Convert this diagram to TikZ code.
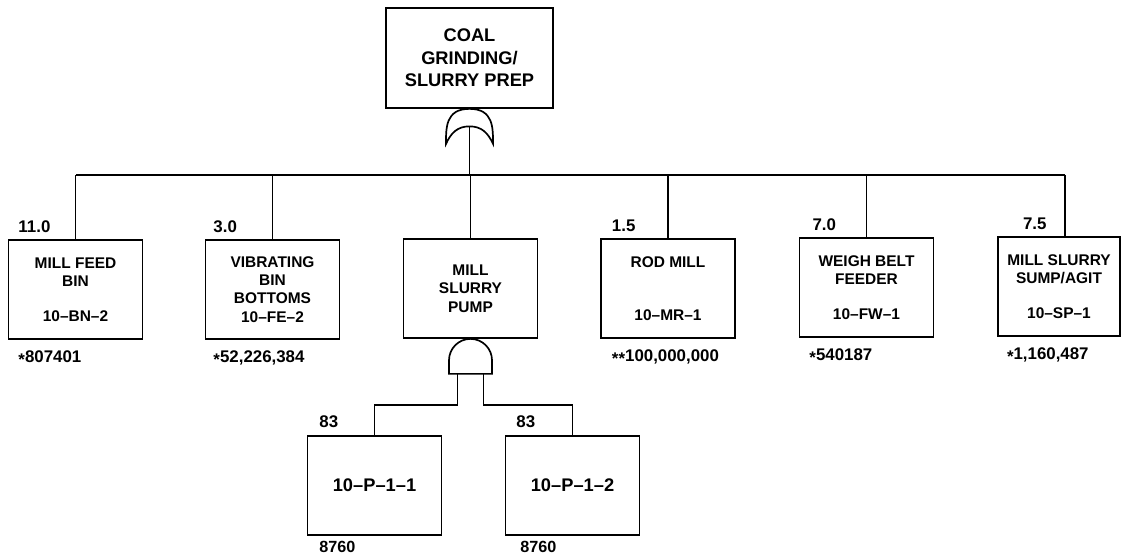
\documentclass[tikz,border=0pt]{standalone}
\usepackage{fontspec}
\setmainfont{Liberation Sans}
\usetikzlibrary{positioning}
\newcommand{\mk}{\raisebox{-0.35ex}{*}}

\begin{document}
\begin{tikzpicture}[x=0.025cm,y=0.025cm,line width=1.2pt]
\tikzstyle{blk}=[rectangle,draw,minimum width=3.35cm,minimum height=2.475cm,align=center,inner sep=2pt,font=\fontsize{11}{13}\selectfont\bfseries]
\tikzstyle{topblk}=[rectangle,draw,minimum width=4.175cm,minimum height=2.5cm,align=center,font=\fontsize{13}{16}\selectfont\bfseries]
\tikzstyle{gatebox}=[rectangle,inner sep=0pt,outer sep=0pt,minimum height=0.875cm]
\tikzstyle{num}=[inner sep=0pt,font=\fontsize{12}{14}\selectfont\bfseries]
\useasboundingbox (0,0) rectangle (1122,-556);
\node (coal) [topblk] at (469.5,-58) {COAL\\GRINDING/\\SLURRY PREP};
\node (org) [gatebox, minimum width=1.175cm, below=0pt of coal] {};
\draw (org.south west) .. controls +(0,16) and +(-24,0) .. (org.north) .. controls +(24,0) and +(0,16) .. (org.south east)
  .. controls +(-5,11) and +(12,0) .. (org.center) .. controls +(-12,0) and +(5,11) .. (org.south west) -- cycle;
\coordinate (busL) at (76,-175);
\coordinate (busR) at (1065,-175);
\draw (org.center) -- (org.center |- busL);
\draw (busL) -- (busR);
\node (mfb) [blk] at (75.5,-289.5) {MILL FEED\\BIN\\[12pt]10--BN--2};
\node (vbb) [blk] at (272.5,-289.5) {VIBRATING\\BIN\\BOTTOMS\\10--FE--2};
\node (msp) [blk] at (470.5,-288.5) {MILL\\SLURRY\\PUMP};
\node (rod) [blk] at (668,-288.5) {ROD MILL\\[25pt]10--MR--1};
\node (wbf) [blk] at (866.5,-287.5) {WEIGH BELT\\FEEDER\\[12pt]10--FW--1};
\node (sump) [blk, minimum width=3.05cm] at (1059,-286.5) {MILL SLURRY\\SUMP/AGIT\\[12pt]10--SP--1};
\draw (mfb.north) -- (mfb.north |- busL);
\draw (vbb.north) -- (vbb.north |- busL);
\draw (msp.north) -- (msp.north |- busL);
\draw (rod.north) -- (rod.north |- busL);
\draw (wbf.north) -- (wbf.north |- busL);
\draw (busR) -- (busR |- sump.north);
\node (rmfb) [num, above right=4pt and 0.25cm of mfb.north west] {11.0};
\node (rvbb) [num, above right=4pt and 0.2cm of vbb.north west] {3.0};
\node (rrod) [num, above right=4pt and 0.275cm of rod.north west] {1.5};
\node (rwbf) [num, above right=4pt and 0.325cm of wbf.north west] {7.0};
\node (rsump) [num, above right=4pt and 0.625cm of sump.north west] {7.5};
\node (cmfb) [num, below right=7pt and 0.25cm of mfb.south west] {\mk807401};
\node (cvbb) [num, below right=7pt and 0.2cm of vbb.south west] {\mk52,226,384};
\node (crod) [num, below right=7pt and 0.275cm of rod.south west] {\mk\mk100,000,000};
\node (cwbf) [num, below right=7pt and 0.25cm of wbf.south west] {\mk540187};
\node (csump) [num, below right=7pt and 0.225cm of sump.south west] {\mk1,160,487};
\node (andg) [gatebox, minimum width=1.075cm, below=0pt of msp] {};
\draw (andg.south west) -- ++(0,13.5) arc[start angle=180,end angle=0,radius=0.5375cm] -- (andg.south east) -- cycle;
\node (p11) [blk, font=\fontsize{13}{15}\selectfont\bfseries] at (374.5,-485.5) {10--P--1--1};
\node (p12) [blk, font=\fontsize{13}{15}\selectfont\bfseries] at (572.5,-485.5) {10--P--1--2};
\coordinate (legL) at ([xshift=-0.325cm]andg.south);
\coordinate (legR) at ([xshift=0.325cm]andg.south);
\draw (legL) -- ++(0,-31) -| (p11.north);
\draw (legR) -- ++(0,-31) -| (p12.north);
\node (rp11) [num, above right=5pt and 0.3cm of p11.north west] {83};
\node (rp12) [num, above right=5pt and 0.275cm of p12.north west] {83};
\node (cp11) [num, font=\fontsize{11.5}{13}\selectfont\bfseries, below right=3.5pt and 0.3cm of p11.south west] {8760};
\node (cp12) [num, font=\fontsize{11.5}{13}\selectfont\bfseries, below right=3.5pt and 0.375cm of p12.south west] {8760};
\end{tikzpicture}
\end{document}
